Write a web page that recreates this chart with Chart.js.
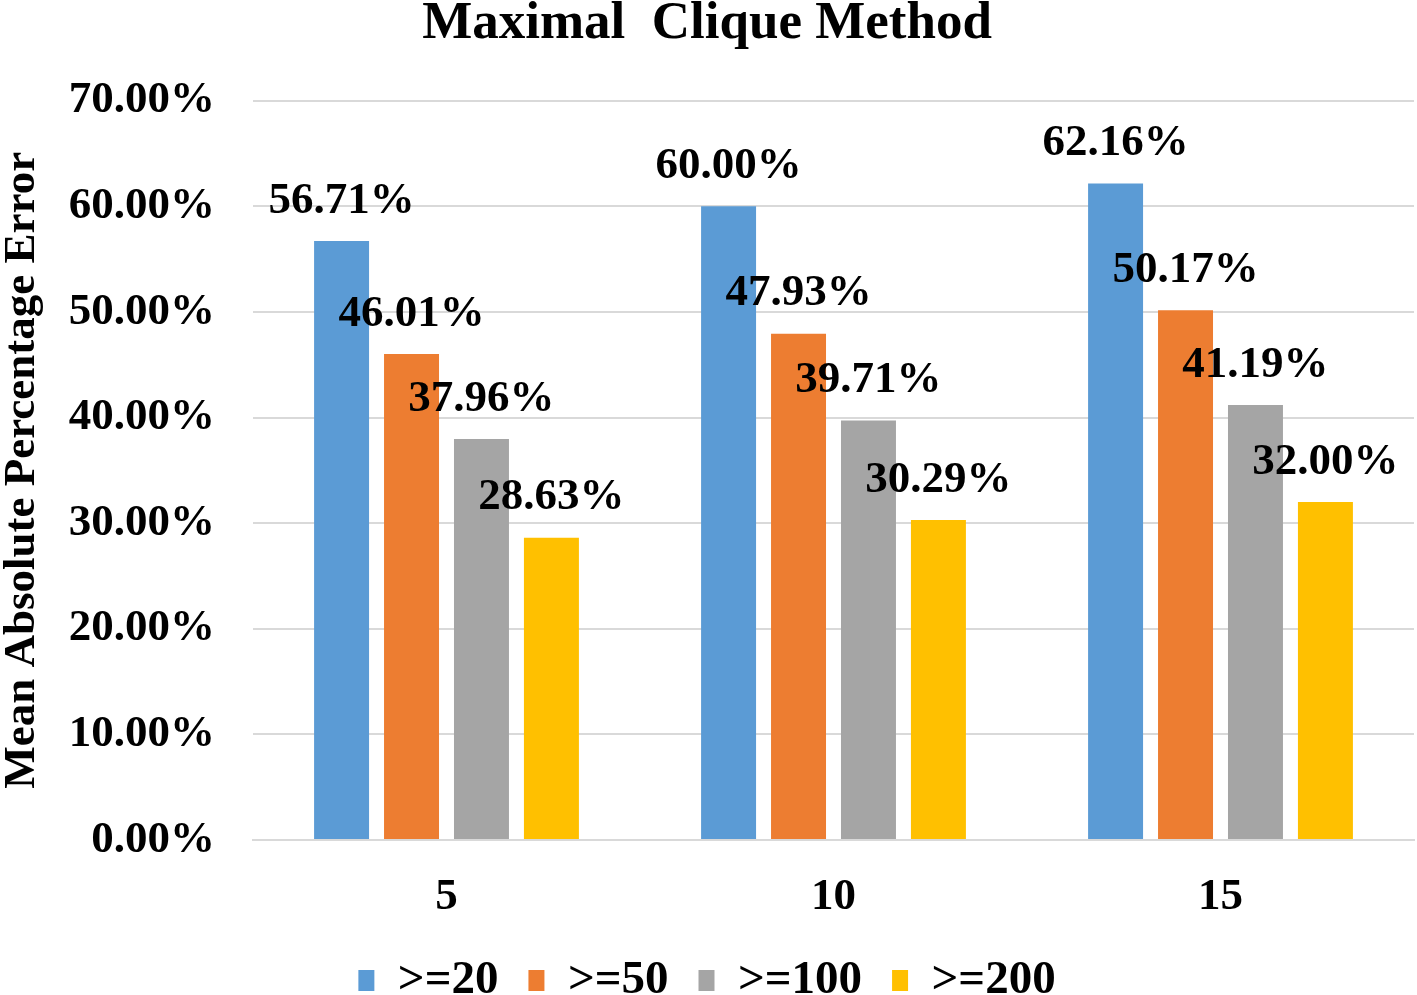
<!DOCTYPE html>
<html>
<head>
<meta charset="utf-8">
<script src="https://cdn.jsdelivr.net/npm/chart.js@4"></script>
<style>
  html, body { margin: 0; padding: 0; background: #fff; }
  #wrap { width: 1417px; height: 995px; }
</style>
</head>
<body>
<div id="wrap"><canvas id="mcChart" width="1417" height="995"></canvas></div>
<script>
// chart data
const groups = ['5', '10', '15'];
const seriesNames = ['>=20', '>=50', '>=100', '>=200'];
const ge20 = [56.71, 60.00, 62.16];
const ge50 = [46.01, 47.93, 50.17];
const ge100 = [37.96, 39.71, 41.19];
const ge200 = [28.63, 30.29, 32.00];
const colors = ['#5B9BD5', '#ED7D31', '#A5A5A5', '#FFC000'];

const FONT = '"Liberation Serif", "Times New Roman", serif';

// simple value labels drawn above each bar
const valueLabels = {
  id: 'valueLabels',
  afterDatasetsDraw(chart) {
    const ctx = chart.ctx;
    ctx.save();
    ctx.font = 'bold 45px ' + FONT;
    ctx.fillStyle = '#000';
    ctx.textAlign = 'center';
    ctx.textBaseline = 'middle';
    chart.data.datasets.forEach((ds, i) => {
      chart.getDatasetMeta(i).data.forEach((bar, j) => {
        ctx.fillText(ds.data[j].toFixed(2) + '%', bar.x, bar.y - 40);
      });
    });
    ctx.restore();
  }
};

const allSeries = [ge20, ge50, ge100, ge200];

new Chart(document.getElementById('mcChart'), {
  type: 'bar',
  data: {
    labels: groups,
    datasets: allSeries.map((d, i) => ({
      label: seriesNames[i],
      data: d,
      backgroundColor: colors[i],
      barPercentage: 0.786,
      categoryPercentage: 0.723
    }))
  },
  options: {
    responsive: false,
    animation: false,
    // negative bottom padding lets the legend sit low like the original
    layout: { padding: { left: 0, right: 3, top: 0, bottom: -19 } },
    plugins: {
      title: {
        display: true,
        text: 'Maximal  Clique Method',
        color: '#000',
        font: { family: FONT, size: 53, weight: 'bold', lineHeight: 0.9 },
        padding: { top: 0, bottom: 53 }
      },
      legend: {
        position: 'bottom',
        labels: {
          color: '#000',
          font: { family: FONT, size: 47, weight: 'bold' },
          boxWidth: 16,
          boxHeight: 21,
          padding: 30
        }
      },
      tooltip: { enabled: false }
    },
    scales: {
      x: {
        grid: { display: false, drawTicks: false },
        border: { display: true, color: '#D9D9D9', width: 2 },
        ticks: {
          color: '#000',
          font: { family: FONT, size: 45, weight: 'bold' },
          padding: 30
        },
        afterFit(scale) { scale.height = 87; }
      },
      y: {
        min: 0,
        max: 70,
        ticks: {
          stepSize: 10,
          color: '#000',
          font: { family: FONT, size: 45, weight: 'bold' },
          padding: 38,
          callback: v => v.toFixed(2) + '%'
        },
        grid: { color: '#D9D9D9', lineWidth: 2, drawTicks: false },
        border: { display: false },
        title: {
          display: true,
          text: 'Mean Absolute Percentage Error',
          color: '#000',
          font: { family: FONT, size: 45, weight: 'bold', lineHeight: 1.0 },
          padding: 0
        },
        afterFit(scale) { scale.width = 253; }
      }
    }
  },
  plugins: [valueLabels]
});
</script>
</body>
</html>
